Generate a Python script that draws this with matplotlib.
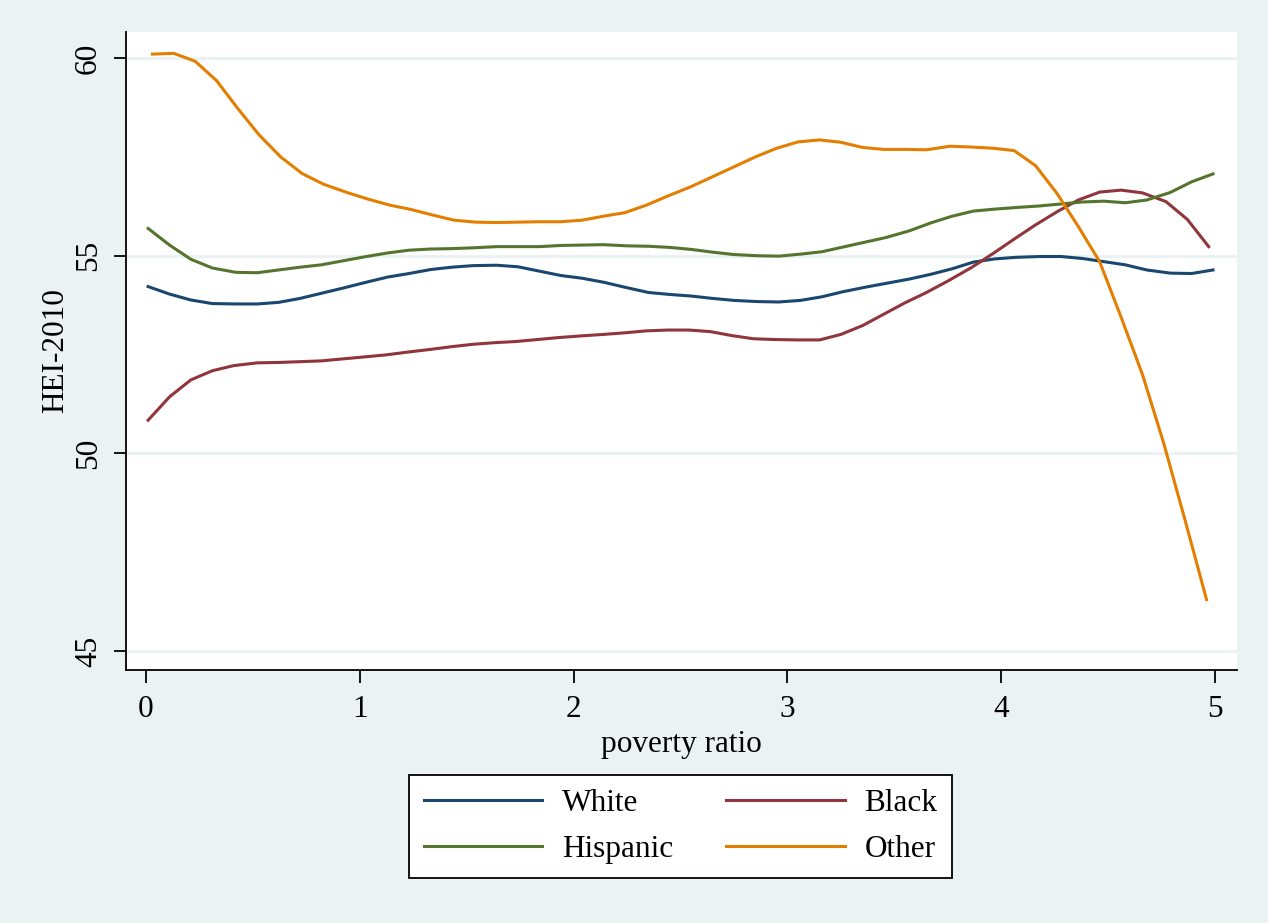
import matplotlib
matplotlib.use("Agg")
import matplotlib.pyplot as plt

plt.rcParams['font.family'] = ['Liberation Serif', 'DejaVu Serif']

# evaluation grid (poverty ratio)
x_main = [0.01, 0.11, 0.21, 0.31, 0.42, 0.52, 0.62, 0.72, 0.82, 0.92,
          1.03, 1.13, 1.23, 1.33, 1.43, 1.53, 1.64, 1.74, 1.84, 1.94,
          2.04, 2.14, 2.25, 2.35, 2.45, 2.55, 2.65, 2.75, 2.86, 2.96,
          3.06, 3.16, 3.26, 3.36, 3.46, 3.57, 3.67, 3.77, 3.87, 3.97,
          4.07, 4.18, 4.28, 4.38, 4.48, 4.58, 4.68, 4.79, 4.89, 4.99]
x_black = [0.01, 0.11, 0.21, 0.31, 0.41, 0.52, 0.62, 0.72, 0.82, 0.92,
           1.02, 1.12, 1.22, 1.33, 1.43, 1.53, 1.63, 1.73, 1.83, 1.93,
           2.03, 2.14, 2.24, 2.34, 2.44, 2.54, 2.64, 2.74, 2.84, 2.94,
           3.05, 3.15, 3.25, 3.35, 3.45, 3.55, 3.65, 3.75, 3.86, 3.96,
           4.06, 4.16, 4.26, 4.36, 4.46, 4.56, 4.66, 4.77, 4.87, 4.97]
x_other = [0.03, 0.13, 0.23, 0.33, 0.43, 0.53, 0.63, 0.73, 0.83, 0.94,
           1.04, 1.14, 1.24, 1.34, 1.44, 1.54, 1.64, 1.74, 1.84, 1.94,
           2.04, 2.14, 2.24, 2.34, 2.44, 2.55, 2.65, 2.75, 2.85, 2.95,
           3.05, 3.15, 3.25, 3.35, 3.45, 3.55, 3.65, 3.76, 3.86, 3.96,
           4.06, 4.16, 4.26, 4.36, 4.46, 4.56, 4.66, 4.76, 4.86, 4.96]

white = [54.22, 54.03, 53.88, 53.79, 53.78, 53.78, 53.82, 53.92, 54.05, 54.18,
         54.33, 54.46, 54.55, 54.65, 54.71, 54.75, 54.76, 54.72, 54.61, 54.50,
         54.43, 54.33, 54.19, 54.07, 54.02, 53.98, 53.92, 53.87, 53.84, 53.83,
         53.87, 53.96, 54.09, 54.20, 54.30, 54.41, 54.53, 54.67, 54.84, 54.92,
         54.96, 54.98, 54.98, 54.93, 54.85, 54.77, 54.64, 54.56, 54.55, 54.64]
black = [50.84, 51.43, 51.86, 52.09, 52.22, 52.29, 52.30, 52.32, 52.34, 52.39,
         52.44, 52.49, 52.56, 52.63, 52.70, 52.76, 52.80, 52.83, 52.88, 52.93,
         52.97, 53.01, 53.05, 53.10, 53.12, 53.12, 53.08, 52.98, 52.90, 52.88,
         52.87, 52.87, 53.01, 53.23, 53.52, 53.81, 54.07, 54.36, 54.70, 55.05,
         55.42, 55.78, 56.11, 56.41, 56.61, 56.66, 56.59, 56.37, 55.92, 55.23]
hispanic = [55.69, 55.27, 54.91, 54.69, 54.58, 54.57, 54.64, 54.71, 54.77, 54.87,
            54.98, 55.07, 55.14, 55.17, 55.18, 55.20, 55.23, 55.23, 55.23, 55.26,
            55.27, 55.28, 55.25, 55.24, 55.21, 55.16, 55.09, 55.03, 55.00, 54.99,
            55.04, 55.10, 55.22, 55.34, 55.46, 55.63, 55.83, 56.00, 56.13, 56.18,
            56.22, 56.26, 56.31, 56.36, 56.38, 56.34, 56.41, 56.60, 56.87, 57.07]
other = [60.10, 60.12, 59.92, 59.43, 58.72, 58.05, 57.50, 57.08, 56.81, 56.60,
         56.43, 56.28, 56.17, 56.03, 55.90, 55.85, 55.84, 55.85, 55.86, 55.86,
         55.90, 56.00, 56.09, 56.28, 56.51, 56.75, 57.00, 57.25, 57.50, 57.72,
         57.88, 57.93, 57.87, 57.74, 57.69, 57.69, 57.68, 57.77, 57.75, 57.72,
         57.66, 57.28, 56.58, 55.74, 54.85, 53.45, 52.00, 50.25, 48.30, 46.30]

y_ticks = [45, 50, 55, 60]
x_ticks = [0, 1, 2, 3, 4, 5]

bg = '#EAF2F3'
fs = 22.5

fig = plt.figure(figsize=(12.68, 9.23), dpi=100, facecolor=bg)
ax = fig.add_axes([126/1268, 1-670/923, (1236.5-126)/1268, (670-32)/923])
ax.set_facecolor('white')

lw = 2.2
ax.plot(x_main, white, color='#1A476F', lw=lw, label='White')
ax.plot(x_black, black, color='#90353B', lw=lw, label='Black')
ax.plot(x_main, hispanic, color='#55752F', lw=lw, label='Hispanic')
ax.plot(x_other, other, color='#E37E00', lw=lw, label='Other')

ax.set_xlim(-0.0935, 5.10)
ax.set_ylim(44.52, 60.66)
ax.set_yticks(y_ticks)
ax.set_xticks(x_ticks)
ax.grid(axis='y', color=bg, lw=2.2)
ax.set_axisbelow(True)
for s in ['top', 'right']:
    ax.spines[s].set_visible(False)
for s in ['left', 'bottom']:
    ax.spines[s].set_linewidth(1.3)
    ax.spines[s].set_color('black')
ax.tick_params(axis='both', direction='out', length=9, width=1.3, labelsize=fs)
ax.tick_params(axis='y', pad=7.5)
ax.tick_params(axis='x', pad=9)
for lab in ax.get_yticklabels():
    lab.set_rotation(90)
    lab.set_va('center')

ax.set_ylabel('HEI-2010', fontsize=fs, labelpad=2.5)
ax.set_xlabel('poverty ratio', fontsize=fs, labelpad=4)

h, l = ax.get_legend_handles_labels()
order = [0, 2, 1, 3]  # column-major: White, Hispanic | Black, Other
leg = fig.legend([h[i] for i in order], [l[i] for i in order], ncol=2,
                 loc='center', bbox_to_anchor=((406+955)/2/1268, 1-(774+879)/2/923),
                 fontsize=fs, frameon=True, fancybox=False, edgecolor='black',
                 facecolor='white', framealpha=1,
                 handlelength=3.8, handletextpad=0.62, columnspacing=1.7,
                 borderpad=0.47, labelspacing=0.52, borderaxespad=0)
leg.get_frame().set_linewidth(1.3)

fig.savefig('out.png', dpi=100, facecolor=bg)
